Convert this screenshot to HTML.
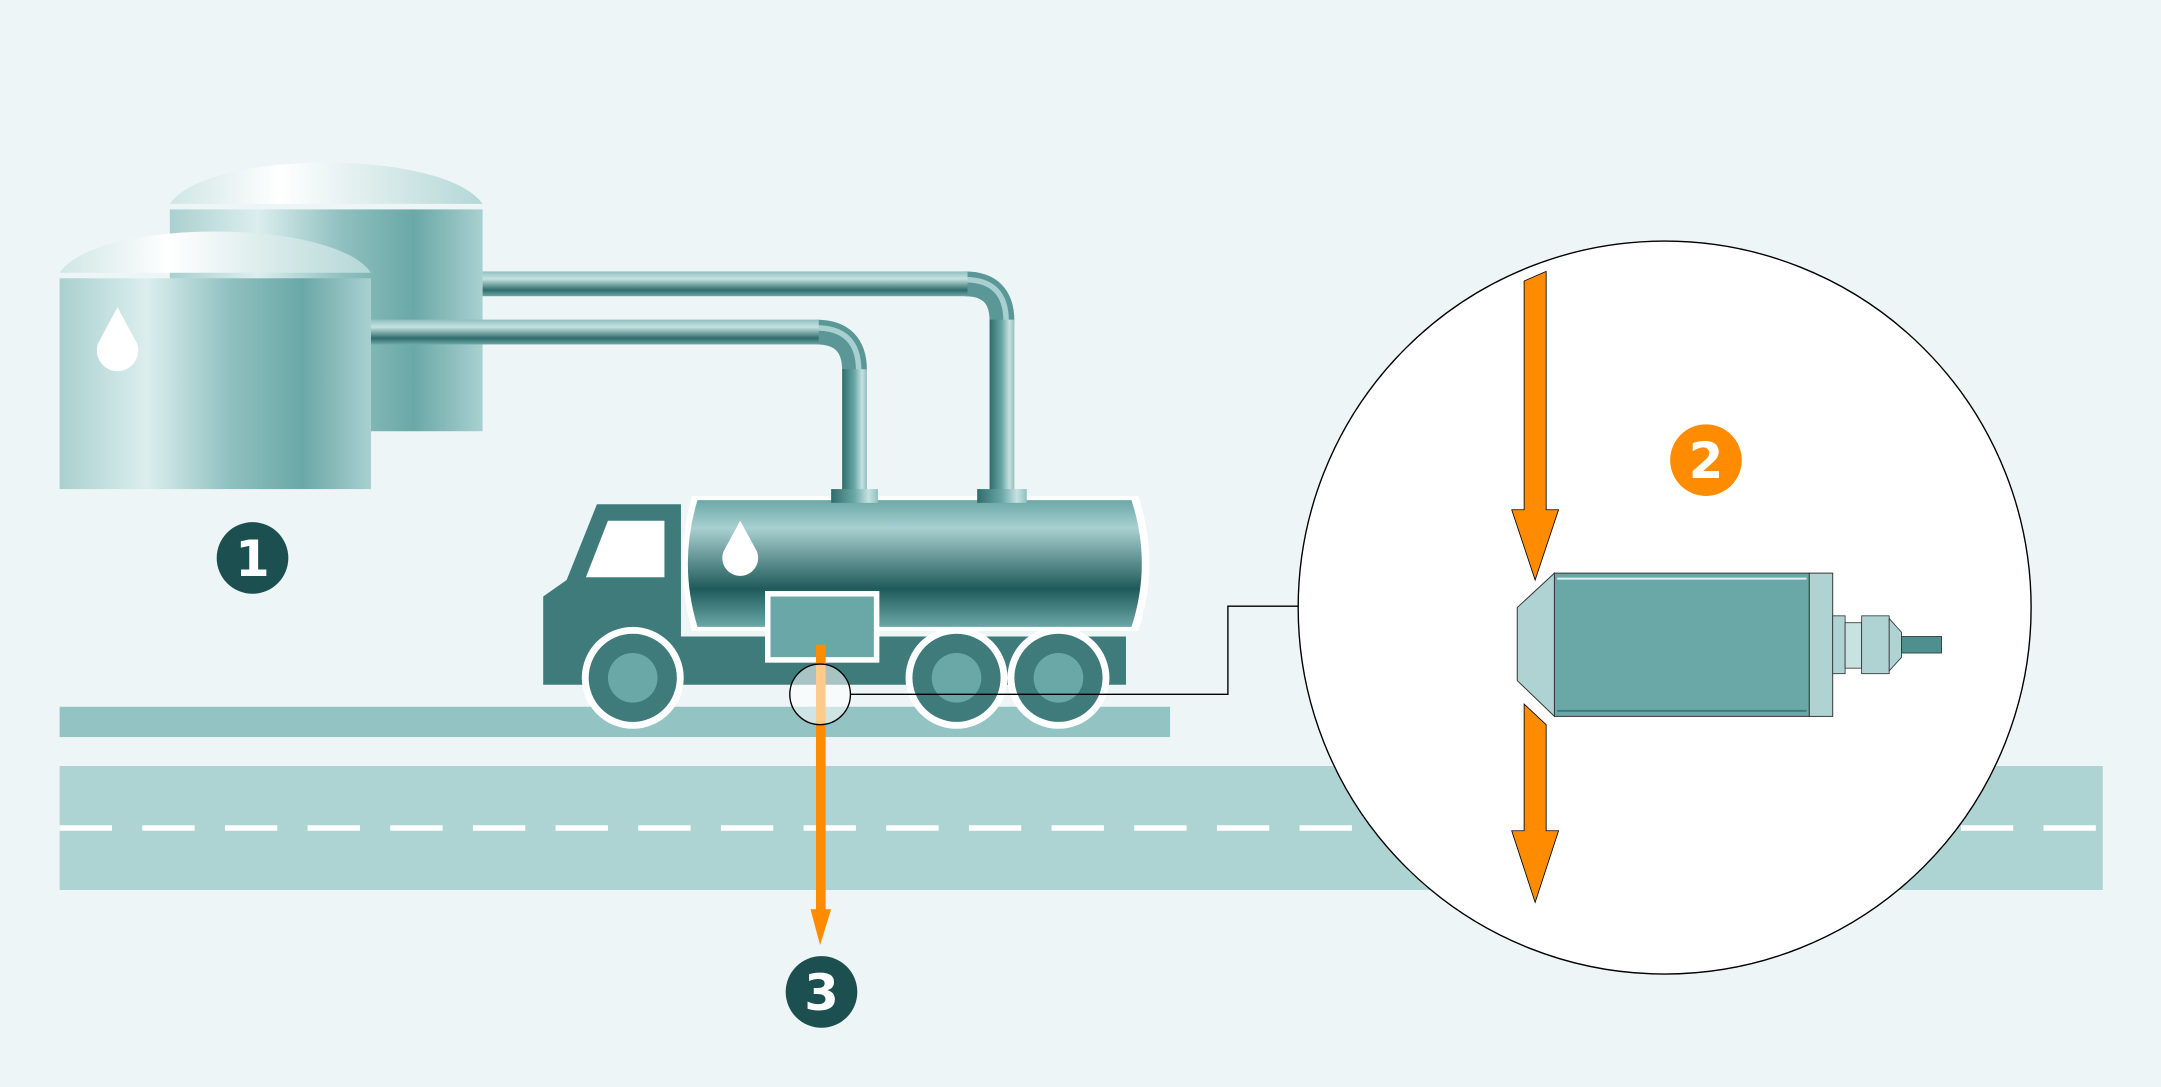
<!DOCTYPE html>
<html><head><meta charset="utf-8"><style>html,body{margin:0;padding:0;background:#edf5f6}svg{display:block}</style></head><body>
<svg width="2161" height="1087" viewBox="0 0 1568 789" xmlns="http://www.w3.org/2000/svg">
<defs>
<linearGradient id="tk" x1="0" x2="1" y1="0" y2="0">
<stop offset="0" stop-color="#a9d0cf"/><stop offset="0.28" stop-color="#dceeee"/><stop offset="0.55" stop-color="#8fc0bf"/><stop offset="0.78" stop-color="#6aa8a7"/><stop offset="1" stop-color="#a9d0d0"/></linearGradient>
<linearGradient id="dm" x1="0" x2="1" y1="0" y2="0">
<stop offset="0" stop-color="#cfe6e5"/><stop offset="0.35" stop-color="#ffffff"/><stop offset="1" stop-color="#b4d7d6"/></linearGradient>
<linearGradient id="ph" x1="0" x2="0" y1="0" y2="1">
<stop offset="0" stop-color="#8fc0bf"/><stop offset="0.3" stop-color="#c6e2e1"/><stop offset="0.75" stop-color="#2f6c6b"/><stop offset="1" stop-color="#6aa8a7"/></linearGradient>
<linearGradient id="pv" x1="0" x2="1" y1="0" y2="0">
<stop offset="0" stop-color="#2f6c6b"/><stop offset="0.5" stop-color="#6aa8a7"/><stop offset="0.8" stop-color="#c6e2e1"/><stop offset="1" stop-color="#8fc0bf"/></linearGradient>
<linearGradient id="tr" x1="0" x2="0" y1="0" y2="1">
<stop offset="0" stop-color="#6aa8a7"/><stop offset="0.22" stop-color="#a9d0d0"/><stop offset="0.7" stop-color="#1f5a5a"/><stop offset="1" stop-color="#6aa8a7"/></linearGradient>
</defs>
<rect width="1568" height="789" fill="#edf5f6"/>
<!-- road -->
<rect x="43" y="556" width="1483" height="90" fill="#aed3d3"/>
<line x1="43" y1="601" x2="1526" y2="601" stroke="#fff" stroke-width="4" stroke-dasharray="38 22"/>
<rect x="43" y="513" width="806" height="22" fill="#94c3c3"/>
<!-- back tank -->
<path d="M123 148 C150 108 322 108 350 148 Z" fill="url(#dm)"/>
<rect x="123" y="152" width="227" height="161" fill="url(#tk)"/>
<!-- pipes -->
<path d="M700 206 Q727 206 727 233" fill="none" stroke="#5a9796" stroke-width="18"/>
<path d="M700 203 Q730 203 730 233" fill="none" stroke="#a9d0d0" stroke-width="4"/>
<rect x="350" y="197" width="352" height="18" fill="url(#ph)"/>
<rect x="718" y="232" width="18" height="124" fill="url(#pv)"/>
<path d="M592 241 Q620 241 620 269" fill="none" stroke="#5a9796" stroke-width="18"/>
<path d="M592 238 Q623 238 623 269" fill="none" stroke="#a9d0d0" stroke-width="4"/>
<rect x="269" y="232" width="325" height="18" fill="url(#ph)"/>
<rect x="611" y="268" width="18" height="88" fill="url(#pv)"/>
<!-- front tank -->
<path d="M43 198 C70 158 242 158 269 198 Z" fill="url(#dm)"/>
<rect x="43" y="202" width="226" height="153" fill="url(#tk)"/>
<path d="M85 223 L99 249 A15 15 0 1 1 71 249 Z" fill="#fff"/>
<!-- truck -->
<polygon points="394,433 411,421 433,366 494,366 494,462 817,462 817,497 394,497" fill="#3f7b7a"/>
<polygon points="441,378 482,378 482,419 425,419" fill="#fff"/>
<path d="M502 360 H826 Q842 409 826 458 H502 Q488 409 502 360 Z" fill="#fff"/>
<path d="M506 363 H821 Q836 409 821 455 H506 Q492 409 506 363 Z" fill="url(#tr)"/>
<rect x="603" y="355" width="34" height="10" fill="url(#pv)"/>
<rect x="709" y="355" width="36" height="10" fill="url(#pv)"/>
<path d="M537 378 L549 400 A13 13 0 1 1 525 400 Z" fill="#fff"/>
<rect x="557" y="431" width="79" height="48" fill="#6aa8a7" stroke="#fff" stroke-width="4"/>
<g>
<circle cx="459" cy="492" r="37" fill="#fff"/><circle cx="459" cy="492" r="32" fill="#3f7b7a"/><circle cx="459" cy="492" r="18" fill="#6aa8a7"/>
<circle cx="694" cy="492" r="37" fill="#fff"/><circle cx="694" cy="492" r="32" fill="#3f7b7a"/><circle cx="694" cy="492" r="18" fill="#6aa8a7"/>
<circle cx="768" cy="492" r="37" fill="#fff"/><circle cx="768" cy="492" r="32" fill="#3f7b7a"/><circle cx="768" cy="492" r="18" fill="#6aa8a7"/>
</g>
<!-- orange down arrow -->
<rect x="592" y="468" width="7" height="198" fill="#ff8c00"/>
<polygon points="588,660 603,660 595,686" fill="#ff8c00"/>
<circle cx="595" cy="504" r="22" fill="#fff" fill-opacity="0.55" stroke="#000" stroke-width="1"/>
<polyline points="617,504 891,504 891,440 943,440" fill="none" stroke="#000" stroke-width="1"/>
<!-- big circle -->
<circle cx="1208" cy="441" r="266" fill="#fff" stroke="#000" stroke-width="1"/>
<polygon points="1106,204 1122,197 1122,370 1131,370 1114,421 1097,370 1106,370" fill="#ff8c00" stroke="#000" stroke-width="0.6"/>
<polygon points="1106,511 1122,526 1122,603 1131,603 1114,655 1097,603 1106,603" fill="#ff8c00" stroke="#000" stroke-width="0.6"/>
<!-- sensor -->
<polygon points="1101,441 1128,416 1128,520 1101,494" fill="#afd3d3" stroke="#333" stroke-width="0.7"/>
<rect x="1128" y="416" width="185" height="104" fill="#6aa8a7" stroke="#333" stroke-width="0.7"/>
<line x1="1130" y1="420" x2="1311" y2="420" stroke="#dff0ef" stroke-width="1.5"/>
<line x1="1130" y1="516" x2="1311" y2="516" stroke="#3f7b7a" stroke-width="1.5"/>
<rect x="1313" y="416" width="17" height="104" fill="#afd3d3" stroke="#333" stroke-width="0.7"/>
<rect x="1330" y="447" width="9" height="42" fill="#afd3d3" stroke="#333" stroke-width="0.6"/>
<rect x="1339" y="452" width="12" height="33" fill="#c6e2e1" stroke="#333" stroke-width="0.6"/>
<rect x="1351" y="447" width="20" height="42" fill="#afd3d3" stroke="#333" stroke-width="0.6"/>
<polygon points="1371,449 1380,459 1380,477 1371,487" fill="#afd3d3" stroke="#333" stroke-width="0.6"/>
<rect x="1380" y="462" width="29" height="12" fill="#4f8f8e" stroke="#333" stroke-width="0.6"/>
<!-- badges -->
<g font-family="'DejaVu Sans','Liberation Sans',sans-serif" font-weight="bold" font-size="36" text-anchor="middle" fill="#fff">
<circle cx="183" cy="405" r="26" fill="#1b4f50"/><text x="183" y="418">1</text>
<circle cx="596" cy="720" r="26" fill="#1b4f50"/><text x="596" y="733">3</text>
<circle cx="1238" cy="334" r="26" fill="#ff8c00"/><text x="1238" y="347">2</text>
</g>
</svg>
</body></html>
